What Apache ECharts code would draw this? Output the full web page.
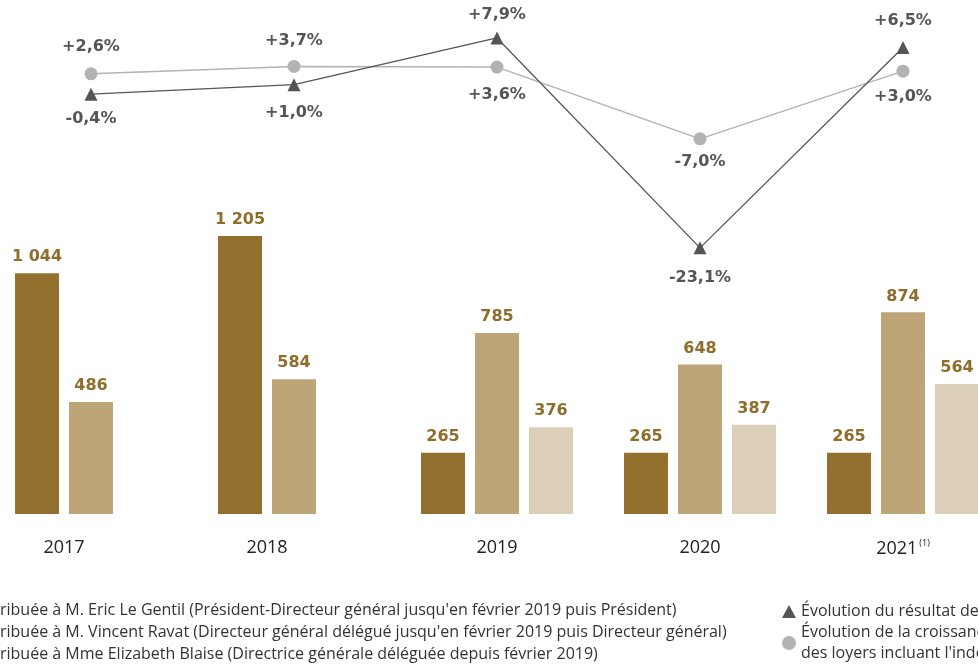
<!DOCTYPE html>
<html>
<head>
<meta charset="utf-8">
<script src="https://cdn.jsdelivr.net/npm/echarts@6/dist/echarts.min.js"></script>
<style>
  html, body { margin: 0; padding: 0; background: #fff; }
  #chart { width: 978px; height: 667px; }
</style>
</head>
<body>
<div id="chart"></div>
<script>
// données
var years = ["2017", "2018", "2019", "2020", "2021"];
var gentil = [1044, 1205, 265, 265, 265];
var ravat = [486, 584, 785, 648, 874];
var blaise = [null, null, 376, 387, 564];
var resultat = [-0.4, 1.0, 7.9, -23.1, 6.5];
var loyers = [2.6, 3.7, 3.6, -7.0, 3.0];
// position des étiquettes des courbes
var posResultat = ["bottom", "bottom", "top", "bottom", "top"];
var posLoyers = ["top", "top", "bottom", "bottom", "bottom"];
var distResultat = [10, 14, 9, 15, 12];
var distLoyers = [13, 11, 13, 8, 11];

var nomResultat = "Évolution du résultat des opérations (FFO)";
var nomLoyers = "Évolution de la croissance\ndes loyers incluant l'indexation";

var legendLines = [
  "ribuée à M. Eric Le Gentil (Président-Directeur général jusqu'en février 2019 puis Président)",
  "ribuée à M. Vincent Ravat (Directeur général délégué jusqu'en février 2019 puis Directeur général)",
  "ribuée à Mme Elizabeth Blaise (Directrice générale déléguée depuis février 2019)"
];

var FONT = "'Open Sans', sans-serif";
var FONT_NUM = "'DejaVu Sans', sans-serif";

function fmtPct(v) {
  return (v > 0 ? "+" : "") + v.toFixed(1).replace(".", ",") + "%";
}
function fmtNum(v) {
  return String(v).replace(/\B(?=(\d{3})+(?!\d))/g, " ");
}

function lineData(vals, pos, dist) {
  return vals.map(function (v, i) {
    return { value: v, label: { position: pos[i], distance: dist[i] } };
  });
}

var chart = echarts.init(document.getElementById("chart"));

var barLabel = {
  show: true,
  position: "top",
  distance: 8,
  color: "#8f6d2a",
  fontFamily: FONT_NUM,
  fontWeight: "bold",
  fontSize: 16,
  formatter: function (p) { return fmtNum(p.value); }
};

var legendText = { fontFamily: FONT, fontSize: 16, color: "#333", lineHeight: 21 };

var option = {
  animation: false,
  grid: { left: -10.5, width: 1015, top: 0, height: 514, outerBoundsMode: "none", containLabel: false },
  legend: [
    {
      data: [{ name: nomResultat, icon: "triangle" }], left: 777, top: 596,
      itemWidth: 14, itemHeight: 13, selectedMode: false, textStyle: legendText
    },
    {
      data: [{ name: nomLoyers, icon: "circle" }], left: 777, top: 617,
      itemWidth: 14, itemHeight: 14, selectedMode: false, textStyle: legendText
    }
  ],
  xAxis: {
    type: "category",
    data: years,
    axisLine: { show: false },
    axisTick: { show: false },
    axisLabel: {
      margin: 25,
      fontFamily: FONT,
      fontSize: 18,
      color: "#222",
      formatter: function (v, i) {
        if (i < 2) return "{two|" + v + "}";
        if (i === 4) return "{a|" + v + "}{sup|(1)}";
        return v;
      },
      rich: {
        two: { fontFamily: FONT, fontSize: 18, color: "#222", padding: [0, 54, 0, 0] },
        a: { fontFamily: FONT, fontSize: 18, color: "#222" },
        sup: { fontFamily: FONT, fontSize: 9, color: "#222", verticalAlign: "top", padding: [0, 0, 10, 2] }
      }
    }
  },
  yAxis: [
    { type: "value", min: 0, max: 2228, show: false, splitLine: { show: false } },
    { type: "value", min: -62.41, max: 13.51, show: false, splitLine: { show: false } }
  ],
  series: [
    {
      name: "Gentil", type: "bar", data: gentil, barWidth: 44, barGap: "22.7%",
      itemStyle: { color: "#93702e" }, label: barLabel
    },
    {
      name: "Ravat", type: "bar", data: ravat, barWidth: 44, barGap: "22.7%",
      itemStyle: { color: "#bda577" }, label: barLabel
    },
    {
      name: "Blaise", type: "bar", data: blaise, barWidth: 44, barGap: "22.7%",
      itemStyle: { color: "#dccfb7" }, label: barLabel
    },
    {
      name: nomLoyers,
      type: "line", yAxisIndex: 1, z: 5,
      data: lineData(loyers, posLoyers, distLoyers),
      symbol: "circle", symbolSize: 13,
      lineStyle: { color: "#b3b3b3", width: 1.5 },
      itemStyle: { color: "#b3b3b3" },
      label: {
        show: true, color: "#555", fontFamily: FONT_NUM, fontWeight: "bold", fontSize: 16,
        formatter: function (p) { return fmtPct(p.value); }
      }
    },
    {
      name: nomResultat,
      type: "line", yAxisIndex: 1, z: 6,
      data: lineData(resultat, posResultat, distResultat),
      symbol: "triangle", symbolSize: 13,
      lineStyle: { color: "#555", width: 1.3 },
      itemStyle: { color: "#555" },
      label: {
        show: true, color: "#555", fontFamily: FONT_NUM, fontWeight: "bold", fontSize: 16,
        formatter: function (p) { return fmtPct(p.value); }
      }
    }
  ],
  graphic: legendLines.map(function (t, i) {
    return {
      type: "text", left: 0, top: 602 + i * 22,
      style: { text: t, fontFamily: FONT, fontSize: 16, fill: "#333" }
    };
  })
};

chart.setOption(option);
</script>
</body>
</html>
